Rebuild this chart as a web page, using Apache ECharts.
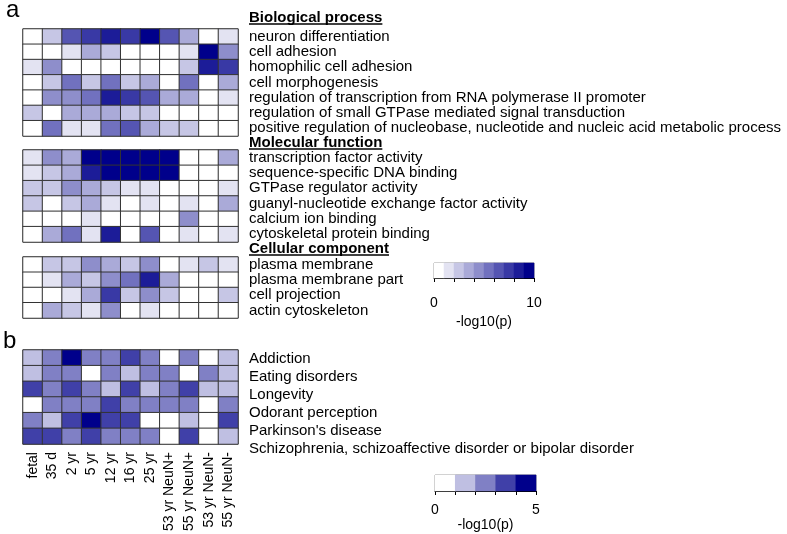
<!DOCTYPE html>
<html><head><meta charset="utf-8">
<script src="https://cdn.jsdelivr.net/npm/echarts@6/dist/echarts.min.js"></script>
<style>html,body{margin:0;padding:0;background:#fff}#c{width:787px;height:534px}</style>
</head><body><div id="c"></div>
<script>
// Sample columns
const samples = ['fetal','35 d','2 yr','5 yr','12 yr','16 yr','25 yr','53 yr NeuN+','55 yr NeuN+','53 yr NeuN-','55 yr NeuN-'];

// Panel a: Biological process (-log10 p, estimated)
const bpTerms = ['neuron differentiation','cell adhesion','homophilic cell adhesion','cell morphogenesis',
  'regulation of transcription from RNA polymerase II promoter','regulation of small GTPase mediated signal transduction',
  'positive regulation of nucleobase, nucleotide and nucleic acid metabolic process'];
const bpValues = [
  [0,2,6,7,8,7,9,6,3,0,1],
  [0,0,1,3,2,0,0,0,1,9,4],
  [1,4,0,0,0,0,0,0,2,8,7],
  [0,2,5,2,5,2,3,0,5,0,3],
  [0,4,4,5,8,7,6,3,3,0,1],
  [2,0,3,3,3,2,2,0,0,0,0],
  [0,5,1,1,5,6,3,2,2,0,0]
];
// Molecular function
const mfTerms = ['transcription factor activity','sequence-specific DNA binding','GTPase regulator activity',
  'guanyl-nucleotide exchange factor activity','calcium ion binding','cytoskeletal protein binding'];
const mfValues = [
  [1,4,3,9,9,9,9,9,0,0,3],
  [1,2,3,8,9,9,9,9,0,0,0],
  [2,2,4,3,2,1,1,0,0,0,1],
  [2,0,2,3,1,0,1,0,1,0,3],
  [0,0,0,1,0,0,0,0,4,0,0],
  [0,3,5,1,8,0,6,0,1,0,1]
];
// Cellular component
const ccTerms = ['plasma membrane','plasma membrane part','cell projection','actin cytoskeleton'];
const ccValues = [
  [0,2,2,4,3,2,4,0,1,2,1],
  [0,1,3,2,4,5,8,3,0,0,0],
  [0,0,1,3,7,2,4,2,0,0,2],
  [0,3,2,1,4,0,1,0,0,0,0]
];
// Panel b: disease
const dzTerms = ['Addiction','Eating disorders','Longevity','Odorant perception',"Parkinson's disease",
  'Schizophrenia, schizoaffective disorder or bipolar disorder'];
const dzValues = [
  [1,2,4,2,2,3,2,0,2,0,1],
  [1,2,2,0,2,1,2,2,0,2,1],
  [3,2,3,2,1,3,1,2,3,1,1],
  [0,2,2,2,3,2,2,2,2,0,2],
  [2,1,3,4,3,3,0,0,1,0,3],
  [3,3,2,3,2,2,2,0,3,0,1]
];
// Legend scales
const scaleA = [0,1,2,3,4,5,6,7,8,9];
const scaleB = [0,1,2,3,4];
const colorsA = ['#FFFFFF','#E3E3F2','#C6C6E5','#AAAAD8','#8E8ECB','#7171BF','#5555B2','#3939A5','#1C1C98','#00008B'];
const colorsB = ['#FFFFFF','#BFBFE2','#8080C5','#4040A8','#00008B'];

const FONT = 'Liberation Sans, Arial, sans-serif';
function toData(m){const d=[];m.forEach((row,r)=>row.forEach((v,c)=>d.push([c,r,v])));return d;}

const grids = [
  {left:23, top:29, width:215, height:107},
  {left:23, top:150, width:215, height:92},
  {left:23, top:257, width:215, height:61},
  {left:23, top:350, width:215, height:102},
  {left:434, top:263, width:100, height:15},
  {left:435, top:475, width:101, height:16},
  {left:23, top:350, width:215, height:108}  // label band for panel b terms
];
grids.forEach((g,i)=>{g.show=i<6;g.borderColor='#888';g.borderWidth=1;g.backgroundColor='transparent';});

const panels = [bpTerms, mfTerms, ccTerms, dzTerms];
const xAxes = [], yAxes = [], series = [];
panels.forEach((terms,i)=>{
  xAxes.push({type:'category', gridIndex:i, data:samples, position:'bottom',
    axisLine:{show:false}, axisTick:{show:false},
    axisLabel:{show:i===3, interval:0, rotate:90, fontSize:14, color:'#000', fontFamily:FONT, margin:8}});
  yAxes.push({type:'category', gridIndex:i, data:terms, inverse:true, position:'right',
    axisLine:{show:false}, axisTick:{show:false},
    axisLabel:{show:i!==3, interval:0, fontSize:15, color:'#000', fontFamily:FONT, margin:11}});
});
// legend grids: category axis for cells + value axis for ticks
xAxes.push({type:'category', gridIndex:4, data:scaleA, show:false});
yAxes.push({type:'category', gridIndex:4, data:['a'], show:false});
xAxes.push({type:'category', gridIndex:5, data:scaleB, show:false});
yAxes.push({type:'category', gridIndex:5, data:['b'], show:false});
xAxes.push({type:'value', gridIndex:4, min:0, max:10, interval:2, position:'bottom',
  axisLine:{show:true, lineStyle:{color:'#000', width:1}}, axisTick:{show:true, length:4, lineStyle:{color:'#000'}},
  splitLine:{show:false},
  axisLabel:{fontSize:14, color:'#000', fontFamily:FONT, margin:18, formatter:v=>(v===0||v===10)?String(v):''},
  name:'-log10(p)', nameLocation:'middle', nameGap:37, nameTextStyle:{fontSize:14, color:'#000', fontFamily:FONT}});
xAxes.push({type:'value', gridIndex:5, min:0, max:5, interval:1, position:'bottom',
  axisLine:{show:true, lineStyle:{color:'#000', width:1}}, axisTick:{show:true, length:4, lineStyle:{color:'#000'}},
  splitLine:{show:false},
  axisLabel:{fontSize:14, color:'#000', fontFamily:FONT, margin:12, formatter:v=>(v===0||v===5)?String(v):''},
  name:'-log10(p)', nameLocation:'middle', nameGap:26, nameTextStyle:{fontSize:14, color:'#000', fontFamily:FONT}});
// label band axes for panel b
xAxes.push({type:'category', gridIndex:6, data:samples, show:false});
yAxes.push({type:'category', gridIndex:6, data:dzTerms, inverse:true, position:'right',
  axisLine:{show:false}, axisTick:{show:false}, splitLine:{show:false},
  axisLabel:{interval:0, fontSize:15, color:'#000', fontFamily:FONT, margin:11}});

const mats = [bpValues, mfValues, ccValues, dzValues];
mats.forEach((m,i)=>{
  series.push({type:'heatmap', xAxisIndex:i, yAxisIndex:i, data:toData(m),
    itemStyle:{borderColor:'#333', borderWidth:1}, emphasis:{disabled:true}});
});
series.push({type:'heatmap', xAxisIndex:4, yAxisIndex:4, data:scaleA.map((v,i)=>[i,0,v]), itemStyle:{borderWidth:0}});
series.push({type:'heatmap', xAxisIndex:5, yAxisIndex:5, data:scaleB.map((v,i)=>[i,0,v]), itemStyle:{borderWidth:0}});

const piecesA = colorsA.map((c,k)=>({gte:k, lt:k+1, color:c})); piecesA[9].lte=10; delete piecesA[9].lt;
const piecesB = colorsB.map((c,k)=>({gte:k, lt:k+1, color:c})); piecesB[4].lte=5; delete piecesB[4].lt;

// header text widths
const ctx = document.createElement('canvas').getContext('2d');
ctx.font = 'bold 15px ' + FONT;
function header(txt, x, y){
  const w = ctx.measureText(txt).width;
  return [
    {type:'text', left:x, top:y-8, style:{text:txt, font:'bold 15px '+FONT, fill:'#000'}},
    {type:'line', shape:{x1:x, y1:y+6, x2:x+w, y2:y+6}, style:{stroke:'#000', lineWidth:1.3}}
  ];
}

const option = {
  animation:false,
  backgroundColor:'#fff',
  grid:grids, xAxis:xAxes, yAxis:yAxes, series:series,
  visualMap:[
    {type:'piecewise', show:false, seriesIndex:[0,1,2,4], pieces:piecesA, dimension:2},
    {type:'piecewise', show:false, seriesIndex:[3,5], pieces:piecesB, dimension:2}
  ],
  graphic:[
    {type:'text', left:6, top:-2, style:{text:'a', font:'24px '+FONT, fill:'#000'}},
    {type:'text', left:3, top:329, style:{text:'b', font:'24px '+FONT, fill:'#000'}},
    ...header('Biological process', 249, 18),
    ...header('Molecular function', 249, 143),
    ...header('Cellular component', 249, 249)
  ]
};
const chart = echarts.init(document.getElementById('c'), null, {renderer:'canvas'});
chart.setOption(option);
</script></body></html>
